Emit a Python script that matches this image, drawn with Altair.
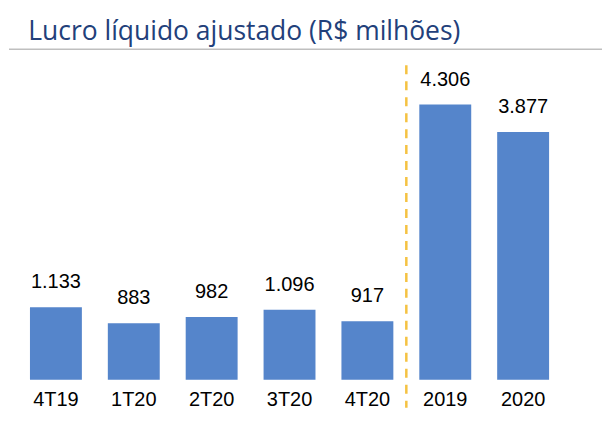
import altair as alt
import pandas as pd

categories = ["4T19", "1T20", "2T20", "3T20", "4T20", "2019", "2020"]
values = [1133, 883, 982, 1096, 917, 4306, 3877]
value_labels = ["1.133", "883", "982", "1.096", "917", "4.306", "3.877"]
separator_after = ["4T20"]

df = pd.DataFrame({"cat": categories, "val": values, "lab": value_labels})
sep = pd.DataFrame({"cat": separator_after})

xscale = alt.Scale(domain=categories, paddingInner=1/3, paddingOuter=1/6)
yscale = alt.Scale(domain=[0, 5000])

x_enc = alt.X("cat:N", scale=xscale, sort=categories,
              axis=alt.Axis(title=None, domain=False, ticks=False, labelAngle=0,
                            labelFont="Liberation Sans", labelFontSize=20,
                            labelColor="#000000", labelPadding=10))

bars = alt.Chart(df).mark_bar(color="#5585CB").encode(
    x=x_enc,
    y=alt.Y("val:Q", scale=yscale, axis=None),
)

text = alt.Chart(df).mark_text(
    baseline="alphabetic", dy=-19, font="Liberation Sans", fontSize=20, color="#000000"
).encode(
    x=alt.X("cat:N", scale=xscale, sort=categories),
    y=alt.Y("val:Q", scale=yscale),
    text="lab:N",
)

sep_rule = alt.Chart(sep).mark_rule(
    color="#F5C242", strokeWidth=2.5, strokeDash=[9, 7], xOffset=13
).encode(
    x=alt.X("cat:N", scale=xscale, sort=categories, bandPosition=1),
    y=alt.value(5),
    y2=alt.value(348),
)

underline = alt.Chart(sep).mark_rule(color="#BFBFBF", strokeWidth=1.5).encode(
    x=alt.value(-8), x2=alt.value(591), y=alt.value(-11)
)

chart = alt.layer(bars, text, sep_rule, underline).properties(
    width=546,
    height=320,
    autosize=alt.AutoSizeParams(type="none"),
    padding={"left": 9, "top": 52, "right": 40, "bottom": 40},
    background="#ffffff",
    title=alt.TitleParams(
        "Lucro líquido ajustado (R$ milhões)",
        anchor="start", font="Open Sans", fontSize=26.5, fontWeight="normal",
        color="#22407A", dx=20, offset=3,
    ),
).configure_view(stroke=None)

chart.save("out.html", embed_options={"renderer": "svg", "actions": False})
